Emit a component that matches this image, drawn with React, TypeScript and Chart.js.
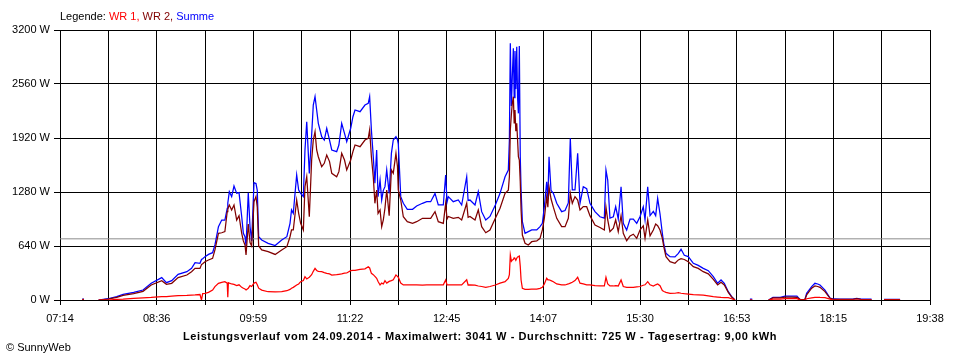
import React, { useEffect, useRef } from 'react';
import { Chart, registerables } from 'chart.js';

Chart.register(...registerables);

// x axis in minutes since midnight
const xMin = 434; // 07:14
const xMax = 1178; // 19:38
const xTickLabels = ['07:14', '08:36', '09:59', '11:22', '12:45', '14:07', '15:30', '16:53', '18:15', '19:38'];
const yTickValues = [0, 640, 1280, 1920, 2560, 3200];
const averageW = 725;

const times = [
  453, 454.5, 458,
  467, 475, 482.5, 488, 497, 505, 512, 521, 525, 529.5, 535, 542.5, 546.5, 549.5, 553.7, 555, 556, 558, 561, 564.5, 566.5, 569.5, 572.3, 575,
  577, 577.5, 578, 578.8, 580.8, 582.8, 585.1, 587.1, 589.4, 590.8, 592.2, 593.1, 595, 596.5, 597.9, 599.9, 601.6, 602.7, 603.9, 606.5,
  612, 618, 623.6, 628, 630.7, 632, 633.5, 636.4, 638.1, 639.8, 642.1, 643.5, 645, 647.2, 649.2, 650.6, 652.1, 653.5, 654.9, 657.8,
  660, 662.1, 664.5, 666.4, 670.6, 672.5, 674.9, 677.3, 679.2, 682.6, 684.5, 686.3, 690.6, 694.8, 697.6, 698.8, 700.3, 701.9, 703.3,
  704.8, 706, 707.7, 709.1, 710.5, 711.9, 713.4, 715.5, 717.4, 719, 721.3, 722.6, 723.3, 725.4, 727.6, 731, 735.5, 739, 744, 747.6,
  751, 754.7, 757.5, 761.8, 763.8, 765, 766.1, 770.3, 774.6, 777.5, 781.8, 783, 784.6, 788.9, 791.7, 794.6, 798.1, 801.7, 806.3,
  810.3, 814.6, 817.4, 818.3, 819.1, 820, 820.8, 821.7, 822.4, 823.1, 823.8, 824.6, 825.3, 826, 826.8, 827.6, 828.3, 829.4, 831.7,
  834.5, 837.4, 841.7, 844.5, 846.5, 848.2, 850.2, 851.2, 852.2, 853.9, 855.9, 858.8, 863, 865.9, 868.7, 870.4, 872.1, 874.4, 876.7,
  878.7, 881.5, 884.4, 887.2, 891.5, 895.8, 899.5, 900.9, 902.4, 904.3, 907.2, 909.2, 911.4, 913.8, 915.7, 918.6, 921.5, 924.3,
  927.2, 930, 932.8, 934.3, 936.6, 938.6, 941.4, 943.4, 945.1, 947.1, 949.1, 950.5, 952.2, 955.7, 959.9, 962.8, 965.1, 967.9,
  971.3, 975.6, 979.8, 984.1, 988.4, 992.7, 996.4, 999.3, 1002.1, 1005.5, 1008.4, 1011.2, 1015,
  1024, 1026, 1030,
  1040, 1043.7, 1050, 1054, 1060, 1064.2, 1067, 1071, 1072.5, 1076.8, 1079.6, 1082, 1083.9, 1088.2, 1092.5, 1095.3, 1101, 1112,
  1115.3, 1119, 1128, 1132, 1138.7, 1152.4, 1156,
];

const summe = [
  10, 10, null,
  0, 15, 40, 67, 91, 118, 198, 265, 205, 229, 304, 336, 375, 442, 435, 480, 490, 514, 541, 561, 652, 869, 948, 948,
  1087, 1150, 1200, 1284, 1225, 1351, 1264, 1272, 987, 790, 750, 640, 1272, 870, 700, 1390, 1380, 1300, 750, 711,
  672, 645, 711, 750, 909, 1067, 1027, 1481, 1304, 1264, 1225, 1778, 2113, 1501, 1955, 2311, 2410, 2252, 2094, 1935,
  1896, 2035, 1896, 1778, 1758, 1837, 2094, 1975, 1876, 2035, 2172, 2252, 2232, 2311, 2331, 2410, 2015, 1698, 1383,
  1778, 1225, 1422, 1185, 1300, 1343, 1541, 1264, 1738, 1896, 1935, 1900, 1850, 1225, 1146, 1075, 1075, 1114, 1146, 1165,
  1165, 1264, 1126, 1126, 1481, 1160, 1225, 1165, 1185, 1126, 1461, 1180, 1185, 1126, 1284, 1047, 948, 990, 1126,
  1264, 1461, 1541, 1896, 3042, 2300, 2647, 2983, 2400, 2950, 2500, 3000, 2400, 2212, 3010, 1700, 1304, 928, 790,
  810, 830, 830, 870, 909, 1106, 1402, 1200, 1698, 1300, 1264, 1146, 1047, 1060, 1150, 1916, 1304, 1304, 1738,
  1146, 1343, 1320, 1146, 1047, 987, 970, 1541, 1422, 970, 987, 1106, 960, 1343, 909, 830, 960, 960,
  909, 987, 1106, 950, 1343, 1000, 1050, 1000, 1205, 1022, 790, 652, 553, 514, 510, 553, 601, 530,
  514, 435, 410, 375, 348, 276, 198, 237, 198, 99, 40, 0, null,
  10, 10, null,
  0, 32, 32, 47, 47, 47, 5, 5, 79, 158, 198, 190, 178, 118, 24, 12, 10, 10,
  20, 10, 10, null, 8, 8, null,
];

const wr2 = [
  8, 8, null,
  0, 10, 32, 55, 75, 103, 178, 229, 186, 198, 265, 296, 336, 375, 375, 420, 430, 454, 474, 494, 593, 790, 797, 810,
  1047, 1080, 1100, 1126, 1067, 1126, 948, 1000, 790, 700, 652, 533, 900, 680, 640, 1165, 1225, 1100, 640, 593,
  573, 540, 593, 632, 750, 830, 830, 1185, 1027, 909, 830, 1343, 1461, 987, 1659, 1896, 1995, 1778, 1698, 1580,
  1620, 1718, 1640, 1501, 1461, 1521, 1738, 1659, 1541, 1659, 1758, 1837, 1817, 1896, 1916, 2015, 1698, 1461, 1146,
  1304, 1027, 1067, 869, 950, 1087, 1304, 1000, 1541, 1501, 1738, 1580, 1304, 1185, 987, 928, 909, 928, 968, 968,
  968, 1047, 928, 909, 1146, 960, 990, 968, 980, 948, 1146, 980, 990, 948, 1067, 869, 797, 830, 968,
  1087, 1264, 1300, 1460, 2015, 2200, 2331, 2410, 2100, 2252, 2000, 2094, 1900, 1700, 1659, 1400, 1067, 770, 672,
  652, 691, 700, 731, 830, 970, 1225, 1100, 1343, 1200, 1100, 968, 869, 869, 968, 1264, 1146, 1225, 1185,
  1067, 1106, 1106, 1000, 889, 860, 830, 1099, 950, 810, 850, 950, 810, 1000, 790, 703, 760, 780,
  731, 830, 880, 731, 950, 760, 830, 900, 880, 830, 731, 620, 514, 454, 435, 475, 490, 480,
  454, 395, 375, 336, 310, 245, 178, 210, 178, 90, 35, 0, null,
  0, 0, null,
  0, 25, 25, 35, 35, 30, 5, 5, 60, 140, 166, 160, 150, 100, 20, 8, 8, 8,
  15, 8, 5, null, 5, 5, null,
];

const wr1 = [
  0, 0, null,
  0, 0, 8, 10, 20, 25, 30, 40, 40, 45, 51, 55, 59, 60, 65, 0, 75, 79, 90, 118, 158, 198, 210, 217,
  200, 32, 205, 200, 190, 185, 170, 180, 150, 140, 130, 120, 140, 170, 160, 200, 210, 180, 140, 118,
  98, 95, 98, 110, 126, 140, 150, 178, 190, 217, 230, 276, 250, 270, 300, 340, 375, 350, 340, 336,
  325, 316, 310, 296, 300, 305, 310, 318, 320, 348, 350, 352, 363, 370, 395, 380, 316, 300, 280,
  257, 220, 178, 200, 190, 229, 200, 220, 229, 240, 296, 280, 270, 200, 178, 178, 180, 178, 176, 178,
  178, 178, 178, 180, 237, 178, 178, 178, 178, 178, 240, 178, 180, 175, 166, 160, 150, 160, 178,
  200, 217, 257, 300, 533, 460, 474, 480, 500, 490, 470, 495, 510, 514, 520, 400, 237, 138, 126,
  126, 128, 130, 138, 150, 190, 257, 240, 240, 230, 217, 190, 178, 178, 190, 200, 210, 230, 269,
  200, 190, 180, 178, 170, 166, 166, 269, 190, 166, 166, 170, 166, 237, 160, 150, 150, 150,
  155, 160, 175, 180, 217, 180, 166, 180, 190, 170, 111, 100, 90, 79, 80, 87, 80, 75,
  71, 65, 62, 59, 50, 40, 35, 30, 28, 28, 15, 0, null,
  0, 0, null,
  0, 10, 10, 15, 15, 15, 0, 0, 15, 25, 32, 32, 30, 28, 10, 0, 0, 0,
  0, 0, 0, null, 0, 0, null,
];

const FONT = '"Liberation Sans", Arial, sans-serif';

function toPoints(values: (number | null)[]) {
  return times.map((t, i) => ({ x: t, y: values[i] }));
}

export default function App() {
  const canvasRef = useRef<HTMLCanvasElement | null>(null);

  useEffect(() => {
    document.body.style.margin = '0';
    const canvas = canvasRef.current;
    if (!canvas) return;
    const chart = new Chart(canvas, {
      type: 'line',
      data: {
        datasets: [
          {
            label: 'WR 1',
            data: toPoints(wr1) as any,
            borderColor: '#ff0000',
            borderWidth: 1.25,
            pointRadius: 0,
            tension: 0,
            spanGaps: false,
            order: 0,
          },
          {
            label: 'WR 2',
            data: toPoints(wr2) as any,
            borderColor: '#800000',
            borderWidth: 1.25,
            pointRadius: 0,
            tension: 0,
            spanGaps: false,
            order: 1,
          },
          {
            label: 'Summe',
            data: toPoints(summe) as any,
            borderColor: '#0000ff',
            borderWidth: 1.25,
            pointRadius: 0,
            tension: 0,
            spanGaps: false,
            order: 2,
          },
          {
            label: 'Durchschnitt',
            data: [
              { x: xMin, y: averageW },
              { x: xMax, y: averageW },
            ],
            borderColor: '#8c8c8c',
            borderWidth: 1,
            pointRadius: 0,
            order: 3,
          },
        ],
      },
      options: {
        responsive: false,
        animation: false,
        devicePixelRatio: 1,
        layout: { padding: { top: 30, right: 30, left: 0, bottom: 0 } },
        plugins: {
          legend: { display: false },
          tooltip: { enabled: false },
          title: { display: false },
        },
        scales: {
          x: {
            type: 'linear',
            min: xMin,
            max: xMax,
            afterBuildTicks: (scale: any) => {
              const n = (xTickLabels.length - 1) * 2;
              scale.ticks = Array.from({ length: n + 1 }, (_, i) => ({ value: xMin + (i * (xMax - xMin)) / n }));
            },
            afterFit: (scale: any) => {
              scale.height = 60;
            },
            ticks: {
              autoSkip: false,
              maxRotation: 0,
              minRotation: 0,
              padding: 7,
              color: '#000',
              font: { family: FONT, size: 11 },
              callback: (_v: any, i: number) => (i % 2 === 0 ? xTickLabels[i / 2] : ''),
            },
            grid: { color: '#000', lineWidth: 1, tickLength: 5, drawTicks: true },
            border: { color: '#000', width: 1 },
          },
          y: {
            min: 0,
            max: 3200,
            afterBuildTicks: (scale: any) => {
              scale.ticks = yTickValues.map((v) => ({ value: v }));
            },
            afterFit: (scale: any) => {
              scale.width = 60;
            },
            ticks: {
              padding: 4,
              color: '#000',
              font: { family: FONT, size: 11 },
              callback: (v: any) => `${v} W`,
            },
            grid: { color: '#000', lineWidth: 1, tickLength: 6, drawTicks: true },
            border: { color: '#000', width: 1 },
          },
        },
      },
    });
    return () => chart.destroy();
  }, []);

  const textBase: React.CSSProperties = {
    position: 'absolute',
    fontFamily: FONT,
    fontSize: 11,
    lineHeight: '13px',
    whiteSpace: 'nowrap',
    color: '#000',
  };

  return (
    <div style={{ position: 'relative', width: 960, height: 360, background: '#fff', overflow: 'hidden' }}>
      <canvas ref={canvasRef} width={960} height={360} style={{ display: 'block' }} />
      <div style={{ ...textBase, left: 60, top: 10 }}>
        Legende: <span style={{ color: '#ff0000' }}>WR 1,</span> <span style={{ color: '#800000' }}>WR 2,</span>{' '}
        <span style={{ color: '#0000ff' }}>Summe</span>
      </div>
      <div style={{ ...textBase, left: 0, width: 960, top: 330, textAlign: 'center', fontWeight: 'bold', letterSpacing: 0.6 }}>
        Leistungsverlauf vom 24.09.2014 - Maximalwert: 3041 W - Durchschnitt: 725 W - Tagesertrag: 9,00 kWh
      </div>
      <div style={{ ...textBase, left: 6, top: 341 }}>© SunnyWeb</div>
    </div>
  );
}
